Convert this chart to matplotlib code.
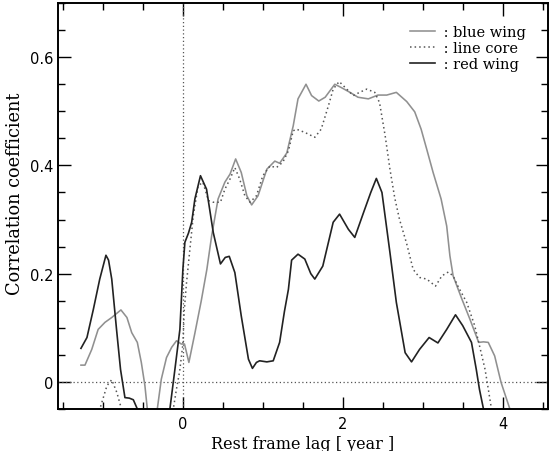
import matplotlib
matplotlib.use('Agg')
import matplotlib.pyplot as plt
from matplotlib.ticker import MultipleLocator

# red wing (dark solid)
lag_red = [-1.275, -1.20, -1.12, -1.04, -0.9625, -0.93, -0.89, -0.83, -0.78, -0.725,
           -0.67, -0.62, -0.57, -0.52, -0.37, -0.22, -0.1625, -0.1, -0.0375, 0.0,
           0.025, 0.07, 0.11, 0.15, 0.22, 0.296, 0.38, 0.47, 0.53, 0.58,
           0.65, 0.73, 0.82, 0.87, 0.92, 0.96, 1.05, 1.13, 1.21, 1.27,
           1.32, 1.36, 1.44, 1.525, 1.60, 1.65, 1.75, 1.88, 1.96, 2.07,
           2.15, 2.26, 2.35, 2.42, 2.49, 2.59, 2.67, 2.78, 2.86, 2.96,
           3.08, 3.19, 3.30, 3.41, 3.50, 3.61, 3.67, 3.71, 3.76, 3.80]
ccf_red = [0.062, 0.082, 0.134, 0.19, 0.234, 0.225, 0.19, 0.097, 0.023, -0.029,
           -0.03, -0.033, -0.05, -0.08, -0.15, -0.09, -0.05, 0.023, 0.097, 0.208,
           0.258, 0.275, 0.295, 0.338, 0.381, 0.356, 0.276, 0.218, 0.23, 0.232,
           0.202, 0.122, 0.042, 0.025, 0.036, 0.039, 0.037, 0.039, 0.073, 0.13,
           0.171, 0.225, 0.236, 0.227, 0.20, 0.19, 0.214, 0.295, 0.31, 0.282,
           0.267, 0.313, 0.35, 0.376, 0.35, 0.239, 0.147, 0.054, 0.037, 0.06,
           0.082, 0.072, 0.097, 0.124, 0.104, 0.073, 0.023, -0.014, -0.05, -0.08]

# blue wing (grey solid)
lag_blue = [-1.275, -1.225, -1.14, -1.06, -0.975, -0.89, -0.775, -0.70, -0.64, -0.57,
            -0.52, -0.475, -0.445, -0.38, -0.32, -0.27, -0.205, -0.14, -0.08, -0.02,
            0.02, 0.075, 0.15, 0.23, 0.30, 0.36, 0.44, 0.525, 0.59, 0.66,
            0.73, 0.80, 0.86, 0.94, 1.05, 1.15, 1.21, 1.30, 1.38, 1.44,
            1.54, 1.61, 1.70, 1.78, 1.90, 1.98, 2.09, 2.19, 2.32, 2.44,
            2.55, 2.67, 2.80, 2.90, 2.98, 3.05, 3.13, 3.23, 3.30, 3.34,
            3.38, 3.49, 3.59, 3.70, 3.76, 3.82, 3.90, 3.98, 4.09, 4.12]
ccf_blue = [0.031, 0.031, 0.06, 0.097, 0.11, 0.119, 0.133, 0.119, 0.091, 0.073,
            0.036, -0.007, -0.05, -0.12, -0.05, 0.005, 0.045, 0.064, 0.076, 0.07,
            0.07, 0.036, 0.09, 0.15, 0.208, 0.27, 0.338, 0.369, 0.384, 0.412,
            0.387, 0.344, 0.327, 0.344, 0.393, 0.408, 0.404, 0.423, 0.473, 0.523,
            0.55, 0.529, 0.519, 0.526, 0.55, 0.544, 0.535, 0.526, 0.523, 0.53,
            0.53, 0.535, 0.518, 0.499, 0.467, 0.43, 0.387, 0.338, 0.288, 0.233,
            0.196, 0.153, 0.116, 0.073, 0.074, 0.073, 0.048, -0.001, -0.05, -0.06]

# line core (dotted)
lag_core = [-1.08, -1.02, -0.95, -0.89, -0.825, -0.78, -0.75, -0.45, -0.15, -0.12,
            -0.08, -0.04, 0.0, 0.016, 0.046, 0.0875, 0.13, 0.19, 0.25, 0.32,
            0.38, 0.47, 0.525, 0.59, 0.65, 0.71, 0.775, 0.84, 0.92, 1.0,
            1.09, 1.17, 1.25, 1.32, 1.38, 1.42, 1.525, 1.65, 1.73, 1.82,
            1.88, 1.955, 2.05, 2.13, 2.21, 2.30, 2.40, 2.46, 2.53, 2.59,
            2.65, 2.71, 2.80, 2.88, 2.96, 3.05, 3.16, 3.24, 3.32, 3.38,
            3.44, 3.55, 3.65, 3.71, 3.78, 3.82, 3.86, 3.88]
ccf_core = [-0.07, -0.041, -0.007, 0.004, -0.02, -0.044, -0.07, -0.15, -0.08, -0.05,
            -0.013, 0.02, 0.07, 0.13, 0.184, 0.245, 0.307, 0.362, 0.369, 0.335,
            0.332, 0.332, 0.356, 0.375, 0.396, 0.375, 0.344, 0.332, 0.344, 0.381,
            0.399, 0.396, 0.406, 0.427, 0.464, 0.467, 0.461, 0.452, 0.467, 0.51,
            0.541, 0.555, 0.541, 0.529, 0.535, 0.541, 0.535, 0.516, 0.455, 0.393,
            0.34, 0.30, 0.255, 0.208, 0.193, 0.19, 0.177, 0.196, 0.203, 0.196,
            0.177, 0.147, 0.104, 0.067, 0.023, -0.013, -0.05, -0.07]

fig = plt.figure(figsize=(5.49, 4.52), dpi=100)
ax = fig.add_axes([0.1056, 0.093, 0.893, 0.898])

ax.axhline(0, color='#555555', lw=0.9, ls=(0, (1, 2)))
ax.axvline(0, color='#555555', lw=0.9, ls=(0, (1, 2)))

ax.plot(lag_blue, ccf_blue, color='#909090', lw=1.15, label=' : blue wing')
ax.plot(lag_core, ccf_core, color='#555555', lw=1.1, ls=(0, (1, 2)), label=' : line core')
ax.plot(lag_red, ccf_red, color='#222222', lw=1.2, label=' : red wing')

ax.set_xlim(-1.5625, 4.57)
ax.set_ylim(-0.05, 0.70)
ax.xaxis.set_minor_locator(MultipleLocator(0.5))
ax.yaxis.set_minor_locator(MultipleLocator(0.05))
ax.set_xticks([0, 2, 4])
ax.set_yticks([0, 0.2, 0.4, 0.6])
ax.set_yticklabels(['0', '0.2', '0.4', '0.6'])
ax.tick_params(which='both', direction='in', top=True, right=True, width=1.0, labelsize=10.5)
ax.tick_params(which='major', length=9)
ax.tick_params(which='minor', length=5)
ax.tick_params(axis='x', pad=5)
for s in ax.spines.values():
    s.set_linewidth(1.4)

ax.set_xlabel('Rest frame lag [ year ]', family='DejaVu Serif', fontsize=11.5, labelpad=3)
ax.set_ylabel('Correlation coefficient', family='DejaVu Serif', fontsize=12.8)
ax.yaxis.set_label_coords(-0.07, 0.532)

ax.legend(loc='upper right', frameon=False, prop={'family': 'DejaVu Serif', 'size': 10.5},
          handlelength=1.7, handletextpad=0.3, labelspacing=0.15, borderaxespad=1.1)

plt.savefig('out.png', dpi=100)
